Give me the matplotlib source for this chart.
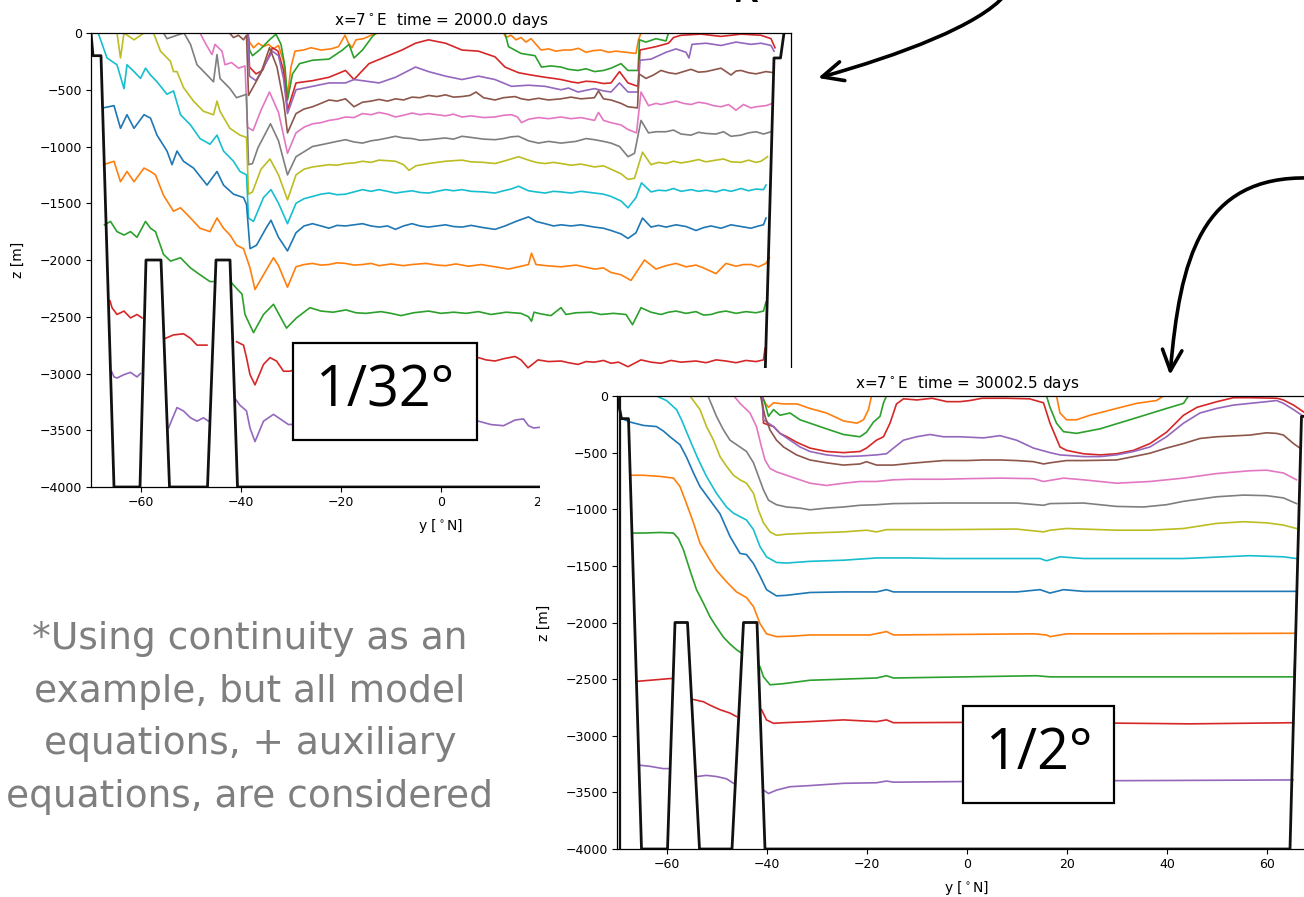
import numpy as np
import matplotlib.pyplot as plt
from matplotlib.patches import Rectangle, FancyArrowPatch
from matplotlib.path import Path

W, H = 1304, 897
nan = np.nan

# ---------------- 1/32 degree run (time = 2000 days): (lat, z) ----------------
hr_bathy = [(-70, 0), (-69.6, -200), (-68, -200), (-65.4, -4000), (-60.2, -4000), (-59, -2000),
            (-56, -2000), (-54.3, -4000), (-46.7, -4000), (-45, -2000), (-42.2, -2000),
            (-40.7, -4000), (64.2, -4000), (66.6, -220), (67.9, -220), (68.6, 0)]

hr_l0 = [(-70, 0), (70, 0)]
hr_l1 = [(-70, 0), (-38.6, 0), (-38.3, -80), (-37.5, -130), (-36.5, -90), (-35.5, -120), (-34.5, -100),
         (-33.5, -140), (-32.5, -110), (-31.5, -250), (-30.7, -560), (-30, -300), (-29.2, -160),
         (-27.5, -150), (-26, -130), (-24, -150), (-22, -140), (-20.5, -120), (-19.2, -20), (-18.5, -90),
         (-17.8, -130), (-17, -60), (-15.5, -50), (-14, -20), (-12.5, 0), (12.5, 0), (13, -40), (14, -20),
         (15, -60), (16, -40), (17, -80), (18, -50), (19, -100), (20, -150), (21.5, -140), (23, -160),
         (24.5, -150), (26, -150), (27.5, -135), (29, -170), (30.5, -155), (32, -150), (33.5, -170),
         (35, -160), (37, -170), (39, -180), (39.5, -60), (40, 0), (70, 0)]
hr_l2 = [(-70, 0), (-38.6, 0), (-38.3, -150), (-37.7, -200), (-36.3, -150), (-34.3, -60), (-33, -10),
         (-32, -100), (-31.2, -300), (-30.7, -590), (-29.7, -360), (-28.3, -270), (-25.7, -240),
         (-22.4, -230), (-19.7, -150), (-18.4, -100), (-17.4, -220), (-15.7, -150), (-13.7, -30),
         (-13, 0), (12.8, 0), (13.5, -120), (16, -180), (18.8, -200), (20.1, -300), (22, -290), (24, -300),
         (25.5, -320), (27.4, -330), (29, -315), (30.7, -340), (32.5, -330), (34, -310), (36, -270),
         (37.4, -330), (39.4, -330), (39.7, -60), (41, -80), (43, -50), (45, -70), (45.5, 0), (70, 0)]
hr_l3 = [(-70, 0), (-38.6, 0), (-38.3, -300), (-37, -360), (-35.7, -330), (-33.7, -130), (-32.6, -160),
         (-31.5, -330), (-30.7, -680), (-29, -440), (-25.7, -420), (-22.4, -390), (-19.1, -330),
         (-17.4, -410), (-14.4, -270), (-11.1, -210), (-7.8, -150), (-5.1, -90), (-2.5, -60), (0.9, -90),
         (4.2, -150), (7.5, -160), (10.8, -210), (12.8, -300), (15.5, -350), (18, -370), (20.8, -390),
         (22.5, -400), (24, -410), (26, -430), (27.4, -440), (29, -425), (30.7, -430), (32.5, -445),
         (34, -440), (35.7, -340), (37.4, -440), (39.4, -470), (39.8, -150), (43, -120), (45.5, -90),
         (46.5, -40), (48, -20), (52, -10), (56, -30), (60, -10), (64, -20), (66, -50), (66.8, -130)]
hr_l4 = [(-70, 0), (-38.6, 0), (-38.3, -380), (-37, -420), (-35.5, -300), (-33.7, -160), (-32.5, -200),
         (-31.5, -400), (-30.7, -710), (-29, -500), (-25.7, -470), (-22.4, -440), (-19.1, -440),
         (-17.4, -410), (-12.4, -440), (-9.1, -390), (-5.1, -300), (-2.5, -340), (0.9, -380), (4.2, -410),
         (7.5, -380), (10.8, -410), (14.1, -470), (17.5, -460), (20.8, -470), (24, -500), (25.5, -485),
         (27.4, -520), (29, -505), (30.7, -490), (32.5, -510), (34, -520), (35.7, -440), (37.4, -520),
         (39.4, -520), (39.8, -240), (42, -230), (45, -170), (47, -140), (49, -170), (49.6, -220),
         (50.2, -100), (53, -90), (56, -110), (59, -80), (62, -100), (64, -90), (66, -110), (66.6, -160)]
hr_l5 = [(-70, 0), (-42.3, 0), (-41.5, -40), (-40.5, -20), (-39.5, -60), (-38.9, -20), (-38.5, -550),
         (-37.5, -470), (-36, -350), (-34.3, -130), (-32.8, -300), (-31.5, -600), (-30.7, -880),
         (-29, -710), (-27.4, -670), (-25.7, -650), (-24, -620), (-22.4, -590), (-20.8, -600),
         (-19.1, -580), (-17.4, -650), (-15.7, -610), (-14, -600), (-12.4, -585), (-10.7, -600),
         (-9.1, -580), (-7.5, -590), (-5.8, -565), (-4.2, -570), (-2.5, -550), (-0.8, -560), (0.9, -545),
         (2.5, -565), (4.2, -560), (5.8, -550), (7, -520), (8.5, -570), (10.8, -590), (12.5, -570),
         (14.8, -560), (16.1, -580), (17.5, -590), (19.5, -575), (21.5, -590), (24, -580), (26, -565),
         (28, -580), (30.7, -570), (31.5, -510), (32.5, -580), (34, -590), (36, -620), (37.4, -650),
         (39.3, -660), (39.6, -360), (41, -400), (42.5, -370), (44, -330), (45.5, -350), (47, -360),
         (48.5, -340), (50, -320), (51.5, -345), (53, -340), (54.5, -325), (56, -310), (58, -370),
         (59, -335), (60, -330), (61.5, -350), (63, -360), (65, -340), (66.6, -350)]
hr_l6 = [(-70, 0), (-48.2, 0), (-47, -100), (-45.8, -190), (-45.2, -100), (-43.8, -160), (-43.2, -280),
         (-41.9, -260), (-40.5, -310), (-39.2, -290), (-38.7, -830), (-37.6, -860), (-36, -680),
         (-34.3, -520), (-32.5, -700), (-30.7, -1060), (-29, -880), (-27.4, -830), (-25.7, -800),
         (-24, -790), (-22.4, -770), (-20.8, -760), (-19.1, -740), (-17.4, -745), (-15.7, -710),
         (-14, -720), (-12.4, -700), (-10.7, -715), (-9.1, -740), (-7.5, -725), (-5.8, -705),
         (-4.2, -720), (-2.5, -710), (0.9, -730), (2.5, -715), (4.2, -740), (6, -730), (8.5, -745),
         (10.8, -740), (12.5, -725), (14.1, -720), (15.3, -740), (16.1, -790), (17.5, -760),
         (19.5, -745), (21.5, -755), (24, -740), (26, -755), (28, -745), (30.7, -770), (31.5, -700),
         (32.5, -770), (34, -790), (36, -810), (37.4, -850), (39.1, -880), (40, -520), (41.5, -640),
         (43, -620), (44, -630), (45.5, -615), (47, -600), (48.5, -620), (50, -630), (51.5, -610),
         (53, -620), (54.5, -640), (56, -650), (57.5, -630), (59, -680), (60.5, -630), (62, -660),
         (63, -650), (65, -640), (66.3, -620)]
hr_l7 = [(-70, 0), (-55.5, 0), (-54.8, -50), (-52.8, -20), (-51.4, 0), (-50.1, -100), (-48.8, -280),
         (-46.8, -370), (-45.5, -430), (-44.8, -190), (-44.2, -400), (-42.2, -490), (-40.9, -570),
         (-38.9, -540), (-38.5, -1160), (-37.7, -1150), (-36.6, -1010), (-34.1, -800), (-32.5, -950),
         (-30.7, -1250), (-29, -1090), (-25.7, -1000), (-24, -985), (-22.4, -970), (-20.8, -955),
         (-19.1, -940), (-17.4, -960), (-15.7, -970), (-14, -950), (-12.4, -940), (-10.7, -925),
         (-9.1, -910), (-7.5, -925), (-5.8, -930), (-4.2, -945), (-2.5, -940), (0.8, -925),
         (2.5, -935), (4.2, -910), (6, -920), (8.5, -935), (10.8, -940), (12.5, -930), (14, -915),
         (15.5, -910), (17.5, -950), (19.5, -970), (21.5, -955), (24, -970), (27, -955), (29, -930),
         (30.7, -940), (32.5, -955), (34, -970), (35.7, -1000), (37.4, -1090), (38.7, -1060),
         (40, -770), (41.5, -880), (43, -870), (45, -870), (46.5, -855), (48, -890), (50, -900),
         (51.5, -875), (53, -885), (55, -890), (56.5, -870), (58, -910), (60, -900), (61.5, -880),
         (63, -870), (64.5, -890), (66, -870)]
hr_l8 = [(-70, 0), (-64.8, 0), (-64.1, -220), (-63.4, 0), (-61.4, -60), (-59.4, 0), (-57.5, 0),
         (-56.1, -160), (-54.1, -250), (-53.5, -340), (-52.8, -340), (-51.5, -480), (-49.5, -600),
         (-47.5, -690), (-45.5, -720), (-44.8, -600), (-44.2, -690), (-42.2, -840), (-40.2, -900),
         (-38.9, -920), (-38.5, -1420), (-37.7, -1400), (-36, -1200), (-34.2, -1110), (-32.5, -1250),
         (-30.7, -1470), (-29, -1250), (-27.4, -1200), (-25.7, -1180), (-24, -1170), (-22.4, -1160),
         (-20.8, -1165), (-19.1, -1150), (-17.4, -1145), (-15.7, -1130), (-14, -1140), (-12.4, -1120),
         (-10.7, -1125), (-9.1, -1130), (-7.5, -1160), (-6.4, -1210), (-5, -1170), (-2.5, -1150),
         (-0.8, -1140), (0.9, -1130), (2.5, -1125), (4.2, -1120), (6, -1135), (8.5, -1140),
         (10.8, -1150), (12.5, -1130), (14, -1110), (15.5, -1090), (17.5, -1120), (19, -1140),
         (20.8, -1150), (22.5, -1140), (24, -1150), (26, -1165), (28, -1155), (30.7, -1180),
         (32.5, -1170), (34, -1200), (36, -1240), (37.4, -1290), (38.7, -1280), (40.3, -1050),
         (42, -1160), (43.5, -1140), (45, -1150), (46.5, -1130), (48, -1145), (50, -1130),
         (51.5, -1115), (53, -1135), (55, -1120), (56.5, -1110), (58, -1135), (60, -1140),
         (61.5, -1120), (63, -1140), (64, -1130), (65.3, -1090)]
hr_l9 = [(-70, 0), (-68.6, 0), (-68.4, -20), (-66.8, -220), (-64.8, -280), (-63.4, -490), (-62.8, -280),
         (-61.4, -340), (-60.1, -400), (-59.1, -310), (-58.1, -370), (-56.8, -430), (-54.8, -540),
         (-53.5, -510), (-52.1, -720), (-50.1, -810), (-48.2, -930), (-46.2, -980), (-44.8, -900),
         (-43.5, -1040), (-41.5, -1130), (-40.2, -1220), (-38.9, -1250), (-38.5, -1630), (-37.5, -1660),
         (-35.5, -1450), (-34, -1380), (-32.5, -1500), (-30.7, -1680), (-29, -1500), (-27.4, -1460),
         (-25.7, -1440), (-24, -1420), (-22.4, -1410), (-20.8, -1425), (-19.1, -1420), (-17.4, -1400),
         (-15.7, -1380), (-14, -1395), (-12.4, -1380), (-10.7, -1395), (-9.1, -1410), (-7.5, -1400),
         (-5.8, -1390), (-4.2, -1405), (-2.5, -1410), (-0.8, -1395), (0.9, -1380), (2.5, -1390),
         (4.2, -1380), (6, -1395), (8.5, -1400), (10.8, -1410), (12.5, -1390), (14, -1375),
         (15.5, -1350), (17.5, -1390), (19, -1400), (20.8, -1410), (22.5, -1395), (24, -1400),
         (26, -1410), (28, -1395), (30.7, -1410), (32.5, -1420), (34, -1440), (36, -1480),
         (37.4, -1540), (39, -1450), (40.1, -1320), (42, -1400), (43.5, -1385), (45, -1390),
         (46.5, -1370), (48, -1395), (50, -1380), (51.5, -1395), (53, -1385), (55, -1400),
         (56.5, -1380), (58, -1395), (60, -1370), (61.5, -1390), (63, -1375), (64.5, -1380), (65, -1340)]
hr_l10 = [(-67.6, -660), (-65.4, -640), (-64.1, -840), (-62.8, -720), (-61.4, -840), (-59.4, -720),
          (-58.1, -750), (-56.8, -900), (-54.8, -1040), (-53.8, -1160), (-52.8, -1040), (-51.5, -1130),
          (-49.5, -1190), (-46.8, -1340), (-44.8, -1220), (-43.5, -1340), (-41.5, -1420), (-39.5, -1450),
          (-38.9, -1510), (-38.2, -1900), (-36.9, -1870), (-35, -1720), (-34, -1650), (-32.5, -1800),
          (-30.7, -1920), (-29, -1760), (-27.4, -1700), (-25.7, -1680), (-24, -1700), (-22.4, -1720),
          (-20.8, -1695), (-19.1, -1700), (-17.4, -1690), (-15.7, -1680), (-14, -1700), (-12.4, -1710),
          (-10.7, -1700), (-9.1, -1730), (-7.5, -1700), (-5.8, -1680), (-4.2, -1700), (-2.5, -1710),
          (0.9, -1690), (2.5, -1705), (4.2, -1710), (6, -1695), (8.5, -1715), (10.8, -1730),
          (12.8, -1700), (15, -1660), (17.5, -1620), (19, -1660), (20.8, -1680), (22.5, -1700),
          (24, -1690), (26, -1700), (28, -1690), (30.7, -1710), (32.5, -1720), (34, -1740),
          (36, -1770), (37.4, -1810), (39, -1760), (40.3, -1630), (42, -1710), (43.5, -1695),
          (45, -1710), (47, -1690), (49, -1705), (51, -1740), (52.5, -1715), (54, -1700), (56, -1720),
          (58, -1690), (60, -1705), (62, -1720), (63.5, -1700), (64.5, -1690), (65, -1630)]
hr_l11 = [(-67.5, -1160), (-65.4, -1130), (-64.1, -1310), (-62.8, -1220), (-61.4, -1310), (-59.4, -1190),
          (-58.1, -1220), (-57.1, -1250), (-55.5, -1430), (-53.5, -1570), (-52.1, -1540), (-50.1, -1630),
          (-48.2, -1720), (-46.2, -1750), (-44.8, -1630), (-43.5, -1720), (-42.2, -1780), (-40.9, -1870),
          (-39.5, -1900), (-38.2, -2070), (-37.2, -2260), (-35.5, -2130), (-33.5, -1980), (-32.5, -2050),
          (-30.7, -2240), (-29, -2060), (-27.4, -2040), (-25.7, -2030), (-24, -2045), (-22.4, -2040),
          (-20.8, -2025), (-19.1, -2030), (-17.4, -2045), (-15.7, -2040), (-14, -2030), (-12.4, -2050),
          (-10, -2035), (-7.5, -2050), (-5.8, -2040), (-3, -2030), (-0.8, -2045), (0.9, -2050),
          (3, -2035), (5.5, -2055), (8, -2040), (10.8, -2060), (13.5, -2080), (15.5, -2060),
          (17.5, -2040), (18.1, -1940), (19, -2040), (21, -2050), (24, -2060), (27, -2045),
          (30.7, -2080), (32.5, -2070), (34, -2110), (36, -2130), (38, -2180), (40.7, -2000),
          (43, -2080), (45, -2050), (47, -2030), (49, -2060), (51, -2045), (52.5, -2070), (54, -2100),
          (55, -2120), (57, -2030), (59, -2055), (60.5, -2040), (62, -2040), (63.5, -2060), (65, -2030),
          (65.7, -1980)]
hr_l12 = [(-67.3, -1690), (-66.1, -1660), (-64.8, -1750), (-63.4, -1780), (-62.1, -1750), (-60.8, -1800),
          (-59.1, -1660), (-58.1, -1720), (-57.1, -1750), (-55.5, -1950), (-54.1, -2010), (-52.1, -1980),
          (-50.1, -2070), (-48.2, -2130), (-46.2, -2190), (-45.6, -2190), (nan, nan), (-41.9, -2200),
          (-40.9, -2250), (-39.8, -2300), (-39.2, -2480), (-37.5, -2640), (-35.5, -2480), (-33.5, -2390),
          (-30.9, -2600), (-28.9, -2510), (-26.2, -2420), (-24, -2450), (-21.6, -2460), (-19, -2440),
          (-17, -2465), (-15, -2470), (-12, -2455), (-10, -2470), (-8, -2490), (-5.5, -2465),
          (-2.5, -2450), (0, -2470), (2.5, -2460), (5, -2470), (7.5, -2455), (10, -2480), (13, -2460),
          (16, -2470), (17.5, -2500), (18.1, -2540), (18.6, -2460), (20, -2475), (22, -2490),
          (24, -2420), (25, -2480), (27, -2465), (30, -2460), (32, -2480), (34.5, -2470), (37, -2480),
          (38.3, -2570), (40, -2420), (42, -2460), (44, -2480), (45.5, -2460), (47, -2450), (49, -2470),
          (51, -2455), (52.5, -2485), (54, -2480), (55.5, -2460), (57, -2450), (59, -2470),
          (61, -2455), (63, -2465), (64.5, -2450), (65, -2370)]
hr_l13 = [(-66.2, -2360), (-65.8, -2420), (-64.8, -2480), (-63.4, -2450), (-62.1, -2510), (-60.8, -2480),
          (-59.8, -2510), (nan, nan), (-55.1, -2690), (-53.5, -2660), (-51.5, -2650), (-50.1, -2690),
          (-48.8, -2750), (-46.8, -2750), (nan, nan), (-40.9, -2720), (-39.5, -2750), (-38.9, -2860),
          (-38.2, -3010), (-37.2, -3100), (-35.5, -2920), (-34.2, -2860), (-32.9, -2890), (-31.5, -2980),
          (-30.2, -2980), (-25, -2900), (-15, -2880), (-5, -2900), (5, -2880), (7.5, -2860),
          (9, -2880), (10.8, -2890), (12.5, -2870), (14.8, -2850), (16, -2880), (17.4, -2950),
          (19.4, -2880), (21.5, -2895), (24, -2890), (25.5, -2905), (27.4, -2920), (29, -2895),
          (30.7, -2900), (32.5, -2885), (34, -2910), (35.5, -2900), (37.4, -2940), (40, -2880),
          (42, -2900), (44, -2910), (46, -2885), (48, -2900), (51, -2890), (53, -2905), (55, -2880),
          (57, -2890), (59, -2905), (61, -2885), (63, -2895), (64.5, -2880), (64.8, -2780)]
hr_l14 = [(-65.9, -2980), (-65.4, -3030), (-64.8, -3040), (-63.4, -3010), (-62.1, -2990), (-60.8, -3030),
          (-60.1, -3000), (nan, nan), (-54.5, -3480), (-52.8, -3300), (-51.5, -3330), (-50.1, -3390),
          (-48.8, -3420), (-47.5, -3390), (-46.5, -3420), (nan, nan), (-41.2, -3220), (-40.2, -3280),
          (-38.9, -3330), (-38.2, -3480), (-37.2, -3600), (-35.5, -3420), (-33.5, -3360), (-31.5, -3420),
          (-30.5, -3450), (-20, -3420), (0, -3440), (7.5, -3420), (10, -3450), (12.5, -3460),
          (14.8, -3410), (16.5, -3400), (17.5, -3460), (18.5, -3480), (25, -3450), (40, -3450),
          (60, -3450), (64.5, -3450)]

# ---------------- 1/2 degree run (time = 30002.5 days): (lat, z) ----------------
lr_bathy = [(-70, 0), (-69.1, -200), (-67.7, -200), (-65.1, -4000), (-59.9, -4000), (-58.4, -2000),
            (-55.9, -2000), (-53.5, -4000), (-47, -4000), (-44.7, -2000), (-42, -2000), (-40.4, -4000),
            (64.6, -4000), (66.9, -180), (67.6, -180), (68.5, 0)]
lr_wall = [(-69.4, 0), (-69.4, -4000)]

lr_l0 = [(-70, 0), (70, 0)]
lr_l1 = [(-70, 0), (-41, 0), (-40.4, -60), (-39.7, -100), (-38.7, -60), (-36.7, -70), (-34, -70),
         (-31.4, -110), (-28.1, -150), (-24.7, -220), (-22, -240), (-20.7, -210), (-19.7, -120),
         (-19.1, 0), (17.9, 0), (18.6, -150), (19.9, -210), (21.9, -210), (24.6, -170), (29.9, -110),
         (33.9, -65), (37.9, -40), (39.3, 0), (70, 0)]
lr_l2 = [(-70, 0), (-41, 0), (-40.5, -50), (-39.7, -180), (-38.7, -120), (-37.4, -170), (-35.4, -150),
         (-33.4, -210), (-31.4, -240), (-28.1, -290), (-24.7, -340), (-21.4, -360), (-20.1, -320),
         (-18.7, -230), (-17.4, -180), (-16.7, -60), (-16.1, 0), (15.9, 0), (16.6, -100), (17.9, -240),
         (19.3, -315), (21.9, -330), (26.6, -290), (33.3, -200), (39.9, -110), (43.3, -65), (44.3, 0),
         (70, 0)]
lr_l3 = [(-70, 0), (-41, 0), (-40.7, -240), (-38.7, -270), (-37.4, -330), (-36, -360), (-34, -410),
         (-31.4, -460), (-28.1, -490), (-24.7, -500), (-21.4, -490), (-20.1, -460), (-18.1, -390),
         (-16.7, -360), (-15.4, -240), (-14.1, -70), (-12.7, -25), (-10, -35), (-7, -20), (-4, -50),
         (-1.4, -50), (0.6, -40), (3, -20), (8, -20), (12.5, -25), (15.3, -60), (16.6, -240),
         (18.6, -450), (19.9, -480), (23.3, -510), (26.6, -520), (29.9, -510), (33.3, -480),
         (36.6, -420), (39.9, -320), (43.3, -170), (46, -100), (50, -50), (53.3, -15), (56.6, -15),
         (62, -20), (63.3, -35), (65.3, -80), (67.3, -140)]
lr_l4 = [(-70, 0), (-41, 0), (-40.7, -210), (-38.7, -270), (-37.4, -330), (-35.4, -390), (-33.4, -450),
         (-31.4, -490), (-28.1, -520), (-24.7, -535), (-21.4, -530), (-18.1, -520), (-16.1, -510),
         (-14.7, -460), (-12.7, -390), (-10.1, -360), (-7.4, -340), (-4.7, -360), (-1.4, -360),
         (3.3, -370), (6.6, -350), (9.9, -390), (13.3, -460), (16.6, -500), (18.6, -520), (23.3, -535),
         (26.6, -535), (29.9, -520), (33.3, -490), (36.6, -450), (39.9, -360), (43.3, -240),
         (46.6, -150), (49.9, -110), (53.3, -80), (56.6, -65), (59.9, -50), (61.9, -40), (63.3, -65),
         (65.3, -120), (67.3, -180)]
lr_l5 = [(-70, 0), (-41.3, 0), (-40.4, -180), (-39.4, -300), (-38.1, -390), (-36.7, -450), (-34.1, -520),
         (-31.4, -565), (-28.1, -590), (-24.7, -610), (-21.4, -600), (-20.1, -580), (-18.1, -610),
         (-14.7, -610), (-11.4, -595), (-4.7, -570), (0, -570), (3.3, -565), (6.6, -565), (9.9, -570),
         (13.3, -580), (15.3, -600), (16.6, -590), (19.9, -570), (23.3, -570), (29.9, -565),
         (33.3, -535), (36.6, -505), (39.9, -460), (43.3, -420), (46.6, -375), (49.9, -360),
         (56.6, -345), (59.9, -325), (61.9, -330), (63.3, -345), (65.3, -420), (66.6, -460)]
lr_l6 = [(-70, 0), (-46.6, 0), (-45.4, -65), (-43.4, -150), (-42.1, -270), (-41.1, -450), (-40.4, -565),
         (-39.4, -640), (-38.1, -670), (-36.1, -700), (-34.1, -730), (-31.4, -770), (-28.1, -790),
         (-24.7, -770), (-21.4, -755), (-18.1, -755), (-14.7, -740), (-11.4, -735), (-4.7, -735),
         (0, -730), (6.6, -725), (13.3, -730), (15.3, -755), (19.3, -725), (23.3, -740), (29.9, -770),
         (36.6, -755), (43.3, -725), (49.9, -685), (56.6, -660), (59.9, -655), (63.3, -680), (65.9, -740)]
lr_l7 = [(-70, 0), (-51.8, 0), (-50.1, -180), (-48.7, -300), (-47.4, -390), (-45.4, -450), (-44.1, -490),
         (-42.7, -590), (-41.7, -710), (-40.7, -830), (-39.7, -920), (-38.1, -960), (-36.1, -980),
         (-33.4, -990), (-31.4, -1005), (-28.1, -990), (-24.7, -980), (-21.4, -965), (-18.1, -960),
         (-14.7, -950), (-4.7, -945), (9.9, -945), (15.3, -965), (16.6, -950), (23.3, -945),
         (29.9, -975), (35.3, -980), (39.9, -960), (43.3, -930), (49.9, -890), (55.3, -875),
         (59.9, -880), (63.3, -900), (65.9, -950)]
lr_l8 = [(-70, 0), (-55.4, 0), (-53.4, -120), (-52.1, -270), (-50.7, -390), (-49.4, -535), (-48.1, -620),
         (-46.7, -700), (-45.4, -740), (-44.1, -770), (-42.7, -860), (-41.7, -1010), (-40.7, -1120),
         (-39.4, -1200), (-38.1, -1230), (-36.1, -1220), (-31.4, -1210), (-24.7, -1200), (-20.1, -1185),
         (-18.1, -1200), (-16.1, -1180), (-4.7, -1180), (9.9, -1175), (15.3, -1200), (16.6, -1185),
         (19.9, -1170), (29.9, -1185), (36.6, -1185), (43.3, -1170), (49.9, -1125), (55.3, -1110),
         (59.9, -1120), (63.3, -1140), (65.9, -1170)]
lr_l9 = [(-70, 0), (-62.1, 0), (-60.1, -40), (-58.1, -120), (-57.1, -210), (-55.4, -390), (-53.7, -565),
         (-52.1, -710), (-50.1, -860), (-48.1, -980), (-46.7, -1035), (-45.4, -1065), (-44.1, -1095),
         (-42.7, -1180), (-41.4, -1330), (-40.1, -1420), (-38.1, -1470), (-36.1, -1475), (-31.4, -1460),
         (-24.7, -1450), (-18.1, -1430), (-11.4, -1430), (-4.7, -1435), (14.6, -1435), (15.9, -1455),
         (18.6, -1420), (23.3, -1435), (43.3, -1435), (56.6, -1410), (63.3, -1420), (65.9, -1435)]
lr_l10 = [(-69, -200), (-67.4, -230), (-64.7, -260), (-62.1, -270), (-60.7, -310), (-59.4, -360),
          (-57.4, -430), (-56.1, -540), (-54.7, -680), (-53.4, -800), (-51.4, -920), (-49.4, -1040),
          (-47.4, -1240), (-45.4, -1390), (-44.1, -1400), (-42.7, -1480), (-41.4, -1590), (-40.1, -1710),
          (-38.1, -1765), (-36.1, -1760), (-31.4, -1735), (-24.7, -1730), (-18.1, -1730), (-16.1, -1710),
          (-14.7, -1730), (10, -1730), (14.6, -1710), (16.6, -1740), (19.3, -1710), (23.3, -1725),
          (63.3, -1725), (65.8, -1725)]
lr_l11 = [(-67.2, -700), (-64.7, -700), (-61.4, -710), (-58.7, -725), (-57.4, -800), (-56.1, -950),
          (-54.7, -1120), (-53.4, -1300), (-51.4, -1450), (-50.1, -1540), (-48.1, -1640), (-46.1, -1730),
          (-44.1, -1780), (-42.7, -1860), (-41.4, -2010), (-40.1, -2100), (-38.1, -2125), (-34.7, -2120),
          (-31.4, -2110), (-24.7, -2110), (-19.4, -2110), (-16.1, -2080), (-14.7, -2110), (13.3, -2100),
          (15.9, -2110), (16.6, -2125), (19.9, -2100), (30, -2100), (65.7, -2095)]
lr_l12 = [(-66.6, -1210), (-64.7, -1210), (-61.4, -1205), (-58.7, -1210), (-57.7, -1260), (-56.7, -1360),
          (-55.4, -1540), (-54.1, -1710), (-52.7, -1830), (-51.4, -1950), (-50.1, -2040), (-48.7, -2130),
          (-47.4, -2190), (-46.1, -2240), (-45.1, -2270), (nan, nan), (-41.4, -2390), (-40.7, -2480),
          (-39.4, -2550), (-36.7, -2540), (-31.4, -2510), (-24.7, -2500), (-18.1, -2490), (-16.1, -2470),
          (-14.7, -2490), (13.9, -2470), (16.6, -2480), (30, -2480), (65.4, -2480), (65.6, -2300)]
lr_l13 = [(-66.1, -2520), (-63.4, -2510), (-59.4, -2495), (-58.8, -2495), (nan, nan), (-54.7, -2680),
          (-52.7, -2700), (-51.4, -2730), (-49.4, -2770), (-47.4, -2800), (-46.1, -2830), (nan, nan),
          (-41.1, -2770), (-40.1, -2860), (-38.7, -2890), (-36.7, -2885), (-31.4, -2875), (-24.7, -2860),
          (-18.1, -2875), (-16.1, -2860), (-14.7, -2885), (10, -2880), (44.6, -2895), (65.3, -2885)]
lr_l14 = [(-65.5, -3260), (-63.4, -3270), (-60.8, -3290), (-59.7, -3290), (nan, nan), (-54, -3360),
          (-52.1, -3350), (-50.1, -3360), (-48.1, -3380), (-46.7, -3420), (nan, nan), (-40.7, -3480),
          (-39.7, -3510), (-38.1, -3480), (-35.4, -3450), (-31.4, -3440), (-24.7, -3420), (-18.1, -3415),
          (-16.1, -3400), (-14.7, -3410), (10, -3400), (40, -3395), (65.2, -3390)]

hr_lines = [hr_l0, hr_l1, hr_l2, hr_l3, hr_l4, hr_l5, hr_l6, hr_l7, hr_l8, hr_l9,
            hr_l10, hr_l11, hr_l12, hr_l13, hr_l14]
lr_lines = [lr_l0, lr_l1, lr_l2, lr_l3, lr_l4, lr_l5, lr_l6, lr_l7, lr_l8, lr_l9,
            lr_l10, lr_l11, lr_l12, lr_l13, lr_l14]


def px_axes(fig, x0, y0, x1, y1, z):
    ax = fig.add_axes([x0 / W, 1 - y1 / H, (x1 - x0) / W, (y1 - y0) / H])
    ax.set_zorder(z)
    return ax


def draw_panel(ax, lines, bathy, title, extra=None):
    for i, ln in enumerate(lines):
        a = np.array(ln, dtype=float)
        ax.plot(a[:, 0], a[:, 1], color=f'C{i % 10}', lw=1.2)
    b = np.array(bathy, dtype=float)
    ax.plot(b[:, 0], b[:, 1], color='#111111', lw=2.0)
    if extra is not None:
        e = np.array(extra, dtype=float)
        ax.plot(e[:, 0], e[:, 1], color='#111111', lw=1.6)
    ax.set_xlim(-70, 70)
    ax.set_ylim(-4000, 0)
    ax.set_title(title, fontsize=11, pad=6)
    ax.set_xlabel(r'y [$^\circ$N]', fontsize=10)
    ax.set_ylabel('z [m]', fontsize=10)
    ax.xaxis.set_label_coords(0.5, -0.066)
    ax.yaxis.set_label_coords(-0.094, 0.5)
    ax.tick_params(labelsize=9, length=3.5, width=0.8, pad=3)
    for s in ax.spines.values():
        s.set_linewidth(0.9)


fig = plt.figure(figsize=(W / 100, H / 100), dpi=100)

ax1 = px_axes(fig, 91, 33, 791, 487, 1)
draw_panel(ax1, hr_lines, hr_bathy, r'x=7$^\circ$E  time = 2000.0 days')

# white backing of the pasted second figure
fig.add_artist(Rectangle((540 / W, 0), 1 - 540 / W, 1 - 368 / H, transform=fig.transFigure,
                         facecolor='white', edgecolor='none', zorder=2))

ax2 = px_axes(fig, 617, 396, 1317, 849, 3)
draw_panel(ax2, lr_lines, lr_bathy, r'x=7$^\circ$E  time = 30002.5 days', extra=lr_wall)


def label_box(x0, y0, x1, y1, txt):
    fig.add_artist(Rectangle((x0 / W, 1 - y1 / H), (x1 - x0) / W, (y1 - y0) / H,
                             transform=fig.transFigure, facecolor='white', edgecolor='black',
                             lw=1.6, zorder=6))
    fig.text((x0 + x1) / 2 / W, 1 - (y0 + y1) / 2 / H, txt, ha='center', va='center',
             fontsize=40, family='Open Sans', zorder=7)


label_box(293, 343, 477, 440, '1/32°')
label_box(963, 706, 1114, 803, '1/2°')

fig.text(250 / W, 1 - 718 / H,
         '*Using continuity as an\nexample, but all model\nequations, + auxiliary\nequations, are considered',
         ha='center', va='center', multialignment='center', fontsize=27, color='#7f7f7f',
         linespacing=1.6, zorder=7)

fig.text(748 / W, 1 - 12 / H, r'$\kappa$', ha='center', va='bottom', fontsize=34, zorder=7)


def curved_arrow(p0, p1, p2, p3):
    verts = [(x / W, 1 - y / H) for x, y in (p0, p1, p2, p3)]
    path = Path(verts, [Path.MOVETO, Path.CURVE4, Path.CURVE4, Path.CURVE4])
    arr = FancyArrowPatch(path=path, arrowstyle='->,head_length=0.75,head_width=0.35',
                          mutation_scale=20, lw=2.6, color='black', transform=fig.transFigure,
                          zorder=8)
    fig.add_artist(arr)


curved_arrow((1005, -5), (980, 25), (900, 55), (818, 78))
curved_arrow((1310, 178), (1200, 175), (1180, 260), (1170, 375))

fig.savefig('out.png', dpi=100)
